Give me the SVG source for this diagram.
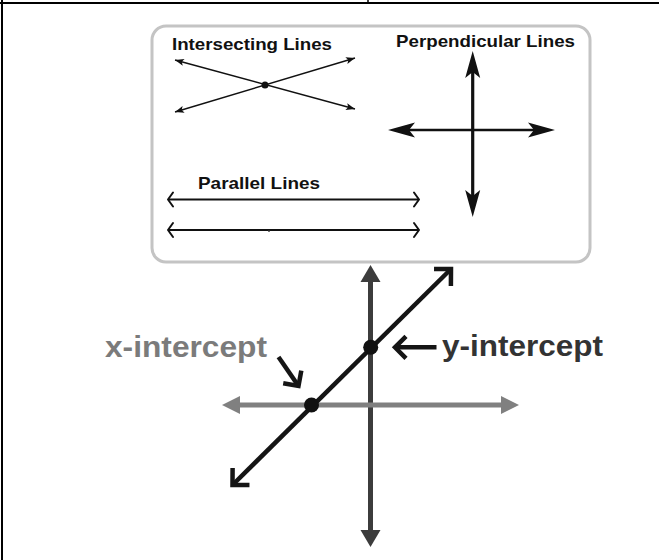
<svg xmlns="http://www.w3.org/2000/svg" width="659" height="560" viewBox="0 0 659 560">
<style>
.lbl{font-family:"Liberation Sans",Arial,sans-serif;font-weight:bold;font-size:16.5px;fill:#111}
.big{font-family:"Liberation Sans",Arial,sans-serif;font-weight:bold;font-size:30px}
.thin{stroke:#111;stroke-width:1.5;fill:none}
.dot{fill:#111}
</style>
<defs>
<marker id="mSmall" viewBox="-10 -5 12 10" refX="0" refY="0" markerWidth="12" markerHeight="10" markerUnits="userSpaceOnUse" orient="auto-start-reverse">
<path d="M-9,-3.5 L0,0 L-9,3.5 L-7,0 z" fill="#111"/>
</marker>
<marker id="mPerp" viewBox="-29 -9 31 18" refX="-14" refY="0" markerWidth="31" markerHeight="18" markerUnits="userSpaceOnUse" orient="auto-start-reverse">
<path d="M-27,-7.5 L0,0 L-27,7.5 L-21,0 z" fill="#111"/>
</marker>
<marker id="mChev" viewBox="-8 -10 10 20" refX="0" refY="0" markerWidth="10" markerHeight="20" markerUnits="userSpaceOnUse" orient="auto-start-reverse">
<path d="M-5,-7 L0,0 L-5,7" fill="none" stroke="#111" stroke-width="2" stroke-linecap="round" stroke-linejoin="round"/>
</marker>
<marker id="mAxisDark" viewBox="-19 -11 21 22" refX="-10" refY="0" markerWidth="21" markerHeight="22" markerUnits="userSpaceOnUse" orient="auto-start-reverse">
<path d="M-17,-10 L0,0 L-17,10 z" fill="#3c3c3c"/>
</marker>
<marker id="mAxisGray" viewBox="-19 -11 21 22" refX="-10" refY="0" markerWidth="21" markerHeight="22" markerUnits="userSpaceOnUse" orient="auto-start-reverse">
<path d="M-18,-9 L0,0 L-18,9 z" fill="#808080"/>
</marker>
<marker id="mBigChev" viewBox="-18 -18 22 36" refX="0" refY="0" markerWidth="22" markerHeight="36" markerUnits="userSpaceOnUse" orient="auto-start-reverse">
<path d="M-12,-12 L0,0 L-12,12" fill="none" stroke="#151515" stroke-width="4.5" stroke-linejoin="miter"/>
</marker>
<marker id="mPoint" viewBox="-16 -16 20 32" refX="0" refY="0" markerWidth="20" markerHeight="32" markerUnits="userSpaceOnUse" orient="auto">
<path d="M-11,-11 L0,0 L-11,11" fill="none" stroke="#151515" stroke-width="4.5" stroke-linejoin="miter"/>
</marker>
</defs>

<g id="table-frame" fill="none" stroke="#000">
<line x1="0" y1="3" x2="659" y2="3" stroke-width="2"/>
<line x1="2" y1="0" x2="2" y2="560" stroke-width="2"/>
<line x1="368" y1="0" x2="368" y2="3" stroke-width="1.5"/>
</g>

<g id="panel">
<rect x="152" y="26" width="438" height="236" rx="14" ry="14" fill="#fff" stroke="#c4c4c4" stroke-width="3"/>
</g>

<g id="connectors">
<!-- intersecting lines -->
<line class="thin" x1="175" y1="60" x2="355" y2="109" marker-start="url(#mSmall)" marker-end="url(#mSmall)"/>
<line class="thin" x1="175" y1="112" x2="355" y2="58" marker-start="url(#mSmall)" marker-end="url(#mSmall)"/>
<!-- perpendicular lines -->
<line x1="472.7" y1="65" x2="472.7" y2="203" stroke="#111" stroke-width="3.2" marker-start="url(#mPerp)" marker-end="url(#mPerp)"/>
<line x1="402" y1="130" x2="541" y2="130" stroke="#111" stroke-width="2.4" marker-start="url(#mPerp)" marker-end="url(#mPerp)"/>
<!-- parallel lines -->
<line x1="168" y1="199.5" x2="419" y2="199.5" stroke="#111" stroke-width="2" marker-start="url(#mChev)" marker-end="url(#mChev)"/>
<line x1="168" y1="230" x2="419" y2="230" stroke="#111" stroke-width="2" marker-start="url(#mChev)" marker-end="url(#mChev)"/>
<circle cx="269" cy="231" r="0.9" fill="#333"/>
<!-- coordinate axes -->
<line x1="370.5" y1="275" x2="370.5" y2="537" stroke="#3c3c3c" stroke-width="5" marker-start="url(#mAxisDark)" marker-end="url(#mAxisDark)"/>
<line x1="232" y1="405" x2="509" y2="405" stroke="#808080" stroke-width="5" marker-start="url(#mAxisGray)" marker-end="url(#mAxisGray)"/>
<!-- diagonal line -->
<line x1="232.5" y1="485" x2="451" y2="269" stroke="#151515" stroke-width="4.5" marker-start="url(#mBigChev)" marker-end="url(#mBigChev)"/>
<!-- pointer arrows -->
<line x1="436.5" y1="347.3" x2="395" y2="347.3" stroke="#151515" stroke-width="4.5" marker-end="url(#mPoint)"/>
<line x1="278.5" y1="357" x2="298.5" y2="386" stroke="#151515" stroke-width="4.5" marker-end="url(#mPoint)"/>
</g>

<g id="intersecting-lines">
<text class="lbl" x="172" y="50" textLength="160" lengthAdjust="spacingAndGlyphs">Intersecting Lines</text>
<circle class="dot" cx="265" cy="85" r="3.5"/>
</g>
<g id="perpendicular-lines">
<text class="lbl" x="396" y="47" textLength="179" lengthAdjust="spacingAndGlyphs">Perpendicular Lines</text>
</g>
<g id="parallel-lines">
<text class="lbl" x="198" y="189" textLength="122" lengthAdjust="spacingAndGlyphs">Parallel Lines</text>
</g>
<g id="x-intercept">
<circle class="dot" cx="311.5" cy="405" r="7.5"/>
<text class="big" x="105" y="357" fill="#7b7b7b" textLength="162" lengthAdjust="spacingAndGlyphs">x-intercept</text>
</g>
<g id="y-intercept">
<circle class="dot" cx="370.7" cy="347.3" r="7.5"/>
<text class="big" x="442" y="356" fill="#333" textLength="161" lengthAdjust="spacingAndGlyphs">y-intercept</text>
</g>
</svg>
